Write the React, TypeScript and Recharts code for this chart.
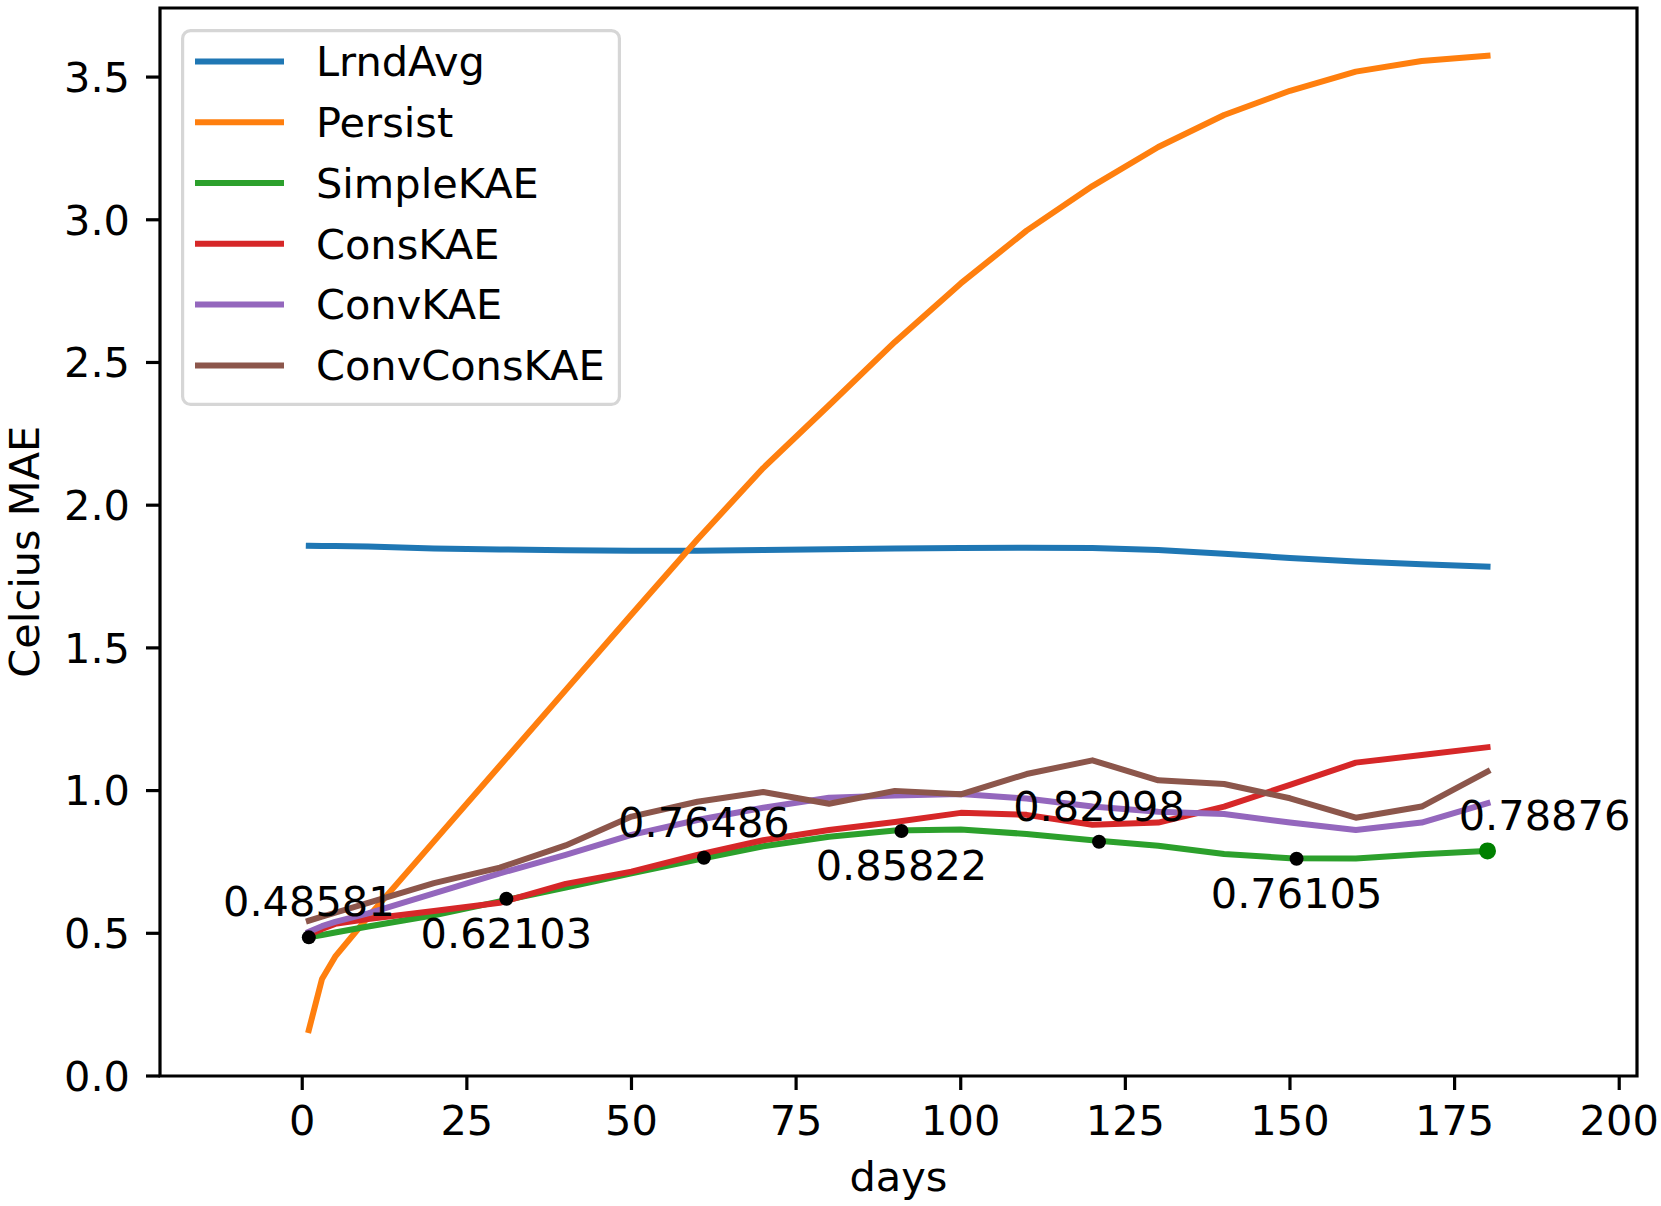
import React from "react"
import {
  ComposedChart,
  Line,
  Scatter,
  XAxis,
  YAxis,
  Legend,
  ReferenceArea,
} from "recharts"

// sample days shared by every model curve
const days = [1, 3, 5, 10, 20, 30, 40, 50, 60, 70, 80, 90, 100, 110, 120, 130, 140, 150, 160, 170, 180]

const lrndAvg = [1.858, 1.857, 1.857, 1.855, 1.848, 1.845, 1.842, 1.84, 1.84, 1.843, 1.846, 1.848, 1.85, 1.851, 1.85, 1.843, 1.83, 1.815, 1.803, 1.793, 1.785]
const persist = [0.161, 0.34, 0.418, 0.557, 0.822, 1.087, 1.352, 1.617, 1.88, 2.13, 2.35, 2.572, 2.777, 2.962, 3.118, 3.255, 3.367, 3.452, 3.519, 3.556, 3.575]
const simpleKAE = [0.486, 0.494, 0.503, 0.524, 0.563, 0.612, 0.66, 0.71, 0.758, 0.805, 0.838, 0.86, 0.864, 0.848, 0.826, 0.807, 0.778, 0.763, 0.762, 0.777, 0.789]
const consKAE = [0.495, 0.515, 0.533, 0.55, 0.578, 0.607, 0.673, 0.716, 0.775, 0.826, 0.862, 0.89, 0.922, 0.915, 0.88, 0.888, 0.944, 1.02, 1.098, 1.125, 1.152]
const convKAE = [0.505, 0.525, 0.54, 0.57, 0.64, 0.71, 0.775, 0.845, 0.897, 0.94, 0.975, 0.983, 0.988, 0.972, 0.944, 0.926, 0.918, 0.888, 0.862, 0.888, 0.956]
const convConsKAE = [0.544, 0.558, 0.572, 0.607, 0.676, 0.73, 0.808, 0.909, 0.961, 0.995, 0.954, 0.999, 0.987, 1.058, 1.106, 1.036, 1.023, 0.973, 0.905, 0.944, 1.067]

// SimpleKAE values marked on the curve
const markDays = [1, 31, 61, 91, 121, 151, 180]
const markValues = [0.48581, 0.62103, 0.76486, 0.85822, 0.82098, 0.76105, 0.78876]

const xTicks = [0, 25, 50, 75, 100, 125, 150, 175, 200]
const yTicks = [0, 0.5, 1, 1.5, 2, 2.5, 3, 3.5]

const series = [
  { name: "LrndAvg", values: lrndAvg, color: "#1f77b4" },
  { name: "Persist", values: persist, color: "#ff7f0e" },
  { name: "SimpleKAE", values: simpleKAE, color: "#2ca02c" },
  { name: "ConsKAE", values: consKAE, color: "#d62728" },
  { name: "ConvKAE", values: convKAE, color: "#9467bd" },
  { name: "ConvConsKAE", values: convConsKAE, color: "#8c564b" },
]

const rows = days.map((d, i) => {
  const row: Record<string, number> = { day: d }
  series.forEach((s) => (row[s.name] = s.values[i]))
  return row
})

const marks = markDays.map((d, i) => ({ day: d, value: markValues[i] }))

const FONT = "'DejaVu Sans', sans-serif"
const FS = 41.5
const X_DOMAIN: [number, number] = [-21.6, 202.7]
const Y_DOMAIN: [number, number] = [0, 3.742]

function Mark(props: any) {
  const { cx, cy, payload } = props
  if (cx == null || cy == null) return null
  const i = markDays.indexOf(payload.day)
  const last = i === markDays.length - 1
  const above = i % 2 === 0
  const tx = last ? cx + 57 : cx
  const ty = above ? cy - 21 : cy + 49
  return (
    <g>
      <circle cx={cx} cy={cy} r={last ? 8.5 : 7} fill={last ? "#008000" : "#000"} />
      <text x={tx} y={ty} textAnchor="middle" fontSize={FS} fontFamily={FONT} fill="#000">
        {payload.value.toFixed(5)}
      </text>
    </g>
  )
}

function LegendBox() {
  return (
    <svg width={440} height={377} style={{ display: "block" }}>
      <rect x={1.6} y={1.6} width={436.8} height={373.8} rx={8} fill="#fff" fillOpacity={0.8} stroke="#d6d6d6" strokeWidth={3.2} />
      {series.map((s, i) => {
        const y = 32.4 + i * 60.8
        return (
          <g key={s.name}>
            <line x1={14} x2={103} y1={y} y2={y} stroke={s.color} strokeWidth={6} />
            <text x={135} y={y + 14.8} fontSize={FS} fontFamily={FONT} fill="#000">
              {s.name}
            </text>
          </g>
        )
      })}
    </svg>
  )
}

function YTitle() {
  return (
    <text x={39.5} y={551.7} transform="rotate(-90 39.5 551.7)" textAnchor="middle" fontSize={FS} fontFamily={FONT} fill="#000">
      Celcius MAE
    </text>
  )
}

function XTitle() {
  return (
    <text x={898.5} y={1191} textAnchor="middle" fontSize={FS} fontFamily={FONT} fill="#000">
      days
    </text>
  )
}

export default function App() {
  const tick = { fill: "#000", fontSize: FS, fontFamily: FONT }
  const tickLine = { stroke: "#000", strokeWidth: 3.2 }
  return (
    <div style={{ position: "absolute", left: 0, top: 0, width: 1661, height: 1206, background: "#fff" }}>
      <ComposedChart width={1661} height={1206} data={rows} margin={{ top: 8, right: 24, bottom: 20, left: 20 }}>
        <XAxis
          dataKey="day"
          type="number"
          domain={X_DOMAIN}
          ticks={xTicks}
          allowDataOverflow
          height={110}
          axisLine={false}
          tickLine={tickLine}
          tickSize={14}
          tickMargin={16}
          tick={tick}
          label={<XTitle />}
        />
        <YAxis
          type="number"
          domain={Y_DOMAIN}
          ticks={yTicks}
          allowDataOverflow
          width={140}
          axisLine={false}
          tickLine={tickLine}
          tickSize={14}
          tickMargin={16}
          tick={tick}
          tickFormatter={(v: number) => v.toFixed(1)}
          label={<YTitle />}
        />
        {series.map((s) => (
          <Line
            key={s.name}
            dataKey={s.name}
            name={s.name}
            stroke={s.color}
            strokeWidth={6}
            strokeLinejoin="round"
            strokeLinecap="square"
            dot={false}
            activeDot={false}
            isAnimationActive={false}
          />
        ))}
        <Scatter data={marks} dataKey="value" shape={<Mark />} isAnimationActive={false} legendType="none" />
        <ReferenceArea x1={X_DOMAIN[0]} x2={X_DOMAIN[1]} y1={Y_DOMAIN[0]} y2={Y_DOMAIN[1]} fill="none" stroke="#000" strokeWidth={3.2} strokeOpacity={1} fillOpacity={0} />
        <Legend
          layout="vertical"
          align="center"
          verticalAlign="middle"
          wrapperStyle={{ left: 180.8, top: 29.3, width: 440, height: 377 }}
          content={() => <LegendBox />}
        />
      </ComposedChart>
    </div>
  )
}
